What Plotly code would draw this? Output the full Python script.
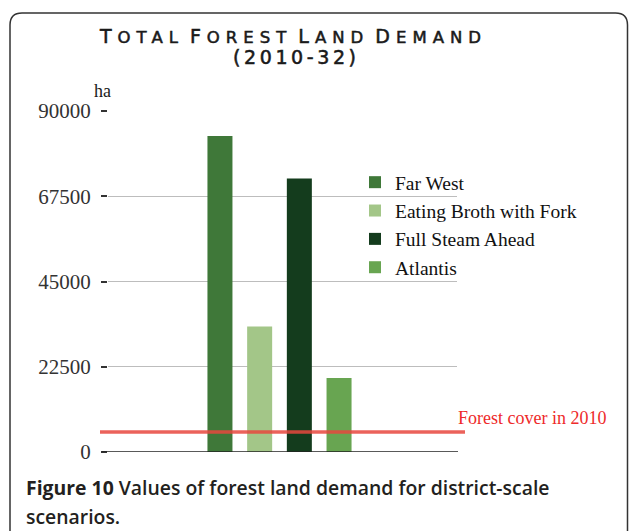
import plotly.graph_objects as go

# ---- data ----
scenarios = ["Far West", "Eating Broth with Fork", "Full Steam Ahead", "Atlantis"]
demand_ha = [83400, 33100, 72200, 19500]
bar_colors = ["#3f7839", "#a3c688", "#143c1d", "#68a551"]
forest_cover_2010 = 5300
tick_values = [0, 22500, 45000, 67500, 90000]
tick_labels = ["0", "22500", "45000", "67500", "90000"]
category = ["2010-32"]

W, H = 629, 531
L, R, T, B = 108, 172, 111, 79
pw, ph = W - L - R, H - T - B


def px(x):
    return (x - L) / pw


def py(y):
    return (H - B - y) / ph


fig = go.Figure()
for i, name in enumerate(scenarios):
    fig.add_trace(go.Bar(
        x=category, y=[demand_ha[i]], name=name,
        marker=dict(color=bar_colors[i], line=dict(width=0)),
        legendgroup=name,
    ))

serif = "Liberation Serif"

# baseline
fig.add_shape(type="line", xref="paper", yref="y", x0=px(102), x1=px(458), y0=0, y1=0,
              line=dict(color="#222", width=1.5), layer="above")
# forest cover line
fig.add_shape(type="line", xref="paper", yref="y", x0=px(100), x1=px(465),
              y0=forest_cover_2010, y1=forest_cover_2010,
              line=dict(color="rgba(232,70,62,0.85)", width=3.5), layer="above")

# frame with rounded top corners
r = 12
x0f, x1f, y0f, y1f = 10, 627.5, 13, 540
path = (f"M {px(x0f)},{py(y1f)} L {px(x0f)},{py(y0f + r)} "
        f"Q {px(x0f)},{py(y0f)} {px(x0f + r)},{py(y0f)} "
        f"L {px(x1f - r)},{py(y0f)} Q {px(x1f)},{py(y0f)} {px(x1f)},{py(y0f + r)} "
        f"L {px(x1f)},{py(y1f)}")
fig.add_shape(type="path", xref="paper", yref="paper", path=path,
              line=dict(color="#333", width=1.5))

STROKE = "stroke:#1a1a1a;stroke-width:0.55px"


def smallcaps(words, big=19, small=16.5, spacing=6):
    parts = []
    for w in words:
        parts.append(f"<span style='font-size:{big}px;letter-spacing:{spacing}px;{STROKE}'>{w[0]}</span>"
                     f"<span style='font-size:{small}px;letter-spacing:{spacing}px;{STROKE}'>{w[1:]}</span>")
    return " ".join(parts)


title1 = smallcaps(["TOTAL", "FOREST", "LAND", "DEMAND"])
title2 = f"<span style='letter-spacing:3.6px;{STROKE}'>(2010-32)</span>"

annotations = [
    dict(text=title1, x=px(293), y=py(36), xref="paper", yref="paper",
         showarrow=False, xanchor="center", yanchor="middle",
         font=dict(family="DejaVu Sans", size=19, color="#1a1a1a")),
    dict(text=title2, x=px(296), y=py(57), xref="paper", yref="paper",
         showarrow=False, xanchor="center", yanchor="middle",
         font=dict(family="DejaVu Sans", size=19, color="#1a1a1a")),
    dict(text="ha", x=px(92), y=py(91), xref="paper", yref="paper",
         showarrow=False, xanchor="left", yanchor="middle",
         font=dict(family=serif, size=18, color="#1a1a1a")),
    dict(text="Forest cover in 2010", x=px(456), y=py(418), xref="paper", yref="paper",
         showarrow=False, xanchor="left", yanchor="middle",
         font=dict(family=serif, size=18, color="#ee2a2a")),
    dict(text="<b>Figure 10</b> Values of forest land demand for district-scale",
         x=px(24), y=py(488), xref="paper", yref="paper",
         showarrow=False, xanchor="left", yanchor="middle", align="left",
         font=dict(family="Open Sans", size=19.4, color="#231f20", weight=600)),
    dict(text="scenarios.",
         x=px(24), y=py(516), xref="paper", yref="paper",
         showarrow=False, xanchor="left", yanchor="middle", align="left",
         font=dict(family="Open Sans", size=19.4, color="#231f20", weight=600)),
]

d = 3 / pw
fig.update_layout(
    width=W, height=H,
    margin=dict(l=L, r=R, t=T, b=B, pad=0),
    paper_bgcolor="white", plot_bgcolor="white",
    barmode="group", bargap=0.545, bargroupgap=0.37,
    showlegend=True,
    legend=dict(x=px(355), y=py(163), xanchor="left", yanchor="top",
                font=dict(family=serif, size=19.5, color="#111"),
                bgcolor="rgba(0,0,0,0)", tracegroupgap=8, traceorder="normal"),
    annotations=annotations,
    xaxis=dict(range=[-0.5 + d, 0.5 + d], showticklabels=False, showgrid=False,
               zeroline=False, showline=False, ticks=""),
    yaxis=dict(range=[0, 90000], tickvals=tick_values, ticktext=tick_labels,
               showgrid=True, gridcolor="#bdbdbd", gridwidth=1, zeroline=False,
               showline=False, ticks="outside", ticklen=6, tickcolor="#333",
               tickwidth=1.5, ticklabelstandoff=6,
               tickfont=dict(family=serif, size=21, color="#333")),
)

fig.write_html("out.html", config={"displayModeBar": False},
               post_script="document.body.style.margin='0';")
